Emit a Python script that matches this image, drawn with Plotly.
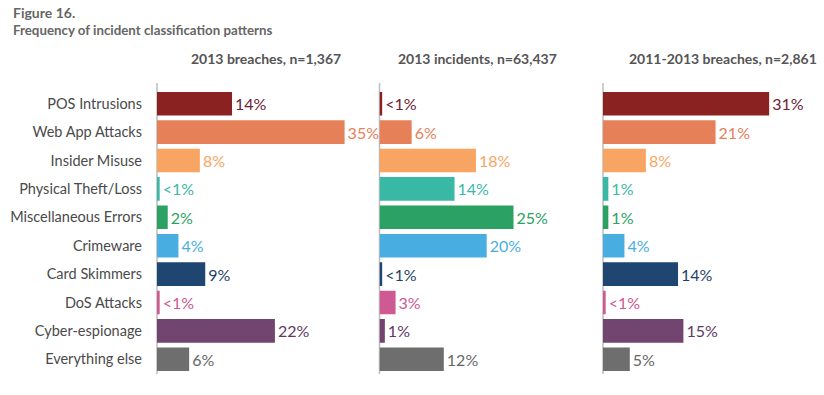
import plotly.graph_objects as go

categories = ["POS Intrusions", "Web App Attacks", "Insider Misuse", "Physical Theft/Loss",
              "Miscellaneous Errors", "Crimeware", "Card Skimmers", "DoS Attacks",
              "Cyber-espionage", "Everything else"]
colors = ["#8A2222", "#E68059", "#F8A564", "#3AB8A6", "#2BA163",
          "#48AEE2", "#1F4571", "#CE5993", "#71456F", "#6E6E6E"]
label_colors = ["#6E2036", "#E68059", "#F8A564", "#3AB8A6", "#2BA163",
                "#48AEE2", "#1F3F6A", "#CE5993", "#5E3A63", "#666666"]

breaches_2013 = [14, 35, 8, 0.5, 2, 4, 9, 0.5, 22, 6]
incidents_2013 = [0.5, 6, 18, 14, 25, 20, 0.5, 3, 1, 12]
breaches_2011_2013 = [31, 21, 8, 1, 1, 4, 14, 0.5, 15, 5]

panel_titles = ["2013 breaches, n=1,367", "2013 incidents, n=63,437", "2011-2013 breaches, n=2,861"]
series = [breaches_2013, incidents_2013, breaches_2011_2013]

W, H = 824, 395
FONT = "Lato"
px_per_pct = 5.36
panel_left = [157, 379.5, 603]
panel_w = 205

def lab(v):
    return "<1%" if v < 1 else f"{v:g}%"

fig = go.Figure()
ytop, ybot = 89.5, 373.5
for i, vals in enumerate(series):
    ax = "" if i == 0 else str(i + 1)
    fig.add_trace(go.Bar(
        x=vals, y=categories, orientation="h",
        marker=dict(color=colors, line=dict(width=0)),
        text=[lab(v) for v in vals], textposition="outside", constraintext="none",
        textfont=dict(family=FONT, size=16, color=label_colors),
        cliponaxis=False, width=0.83,
        xaxis="x" + ax, yaxis="y" + ax, showlegend=False, hoverinfo="skip",
    ))
    x0 = panel_left[i] / W
    x1 = (panel_left[i] + panel_w) / W
    xa = dict(domain=[x0, x1], range=[0, panel_w / px_per_pct], visible=False,
              anchor="y" + ax, fixedrange=True)
    ya = dict(domain=[(H - ybot) / H, (H - ytop) / H], autorange=False, range=[9.5, -0.5],
              type="category", categoryorder="array", categoryarray=categories,
              anchor="x" + ax, showgrid=False, zeroline=False, showline=False,
              showticklabels=(i == 0), ticks="", ticklabelstandoff=14,
              tickfont=dict(family=FONT, size=14.5, color="#4a4a4a"), fixedrange=True)
    fig.update_layout(**{"xaxis" + ax: xa, "yaxis" + ax: ya})
    fig.add_shape(type="line", xref="paper", yref="paper",
                  x0=x0, x1=x0, y0=(H - 374) / H, y1=(H - 83) / H,
                  line=dict(color="#BDBDBD", width=1.5), layer="below")
    fig.add_annotation(text=panel_titles[i], xref="paper", yref="paper",
                       x=[266, 477, 723][i] / W, y=(H - 58) / H, xanchor="center", yanchor="middle",
                       showarrow=False, font=dict(family=FONT, size=14, color="#555555", weight="bold"))

fig.add_annotation(text="Figure 16.", xref="paper", yref="paper", x=11 / W, y=(H - 12) / H,
                   xanchor="left", yanchor="middle", showarrow=False,
                   font=dict(family=FONT, size=14, color="#666666", weight="bold"))
fig.add_annotation(text="Frequency of incident classification patterns", xref="paper", yref="paper",
                   x=11 / W, y=(H - 30) / H, xanchor="left", yanchor="middle", showarrow=False,
                   font=dict(family=FONT, size=13.3, color="#666666", weight="bold"))

fig.update_layout(width=W, height=H, margin=dict(l=0, r=0, t=0, b=0),
                  paper_bgcolor="white", plot_bgcolor="white", bargap=0.17)
fig.write_html("out.html", config={"displayModeBar": False, "staticPlot": True},
               post_script="document.body.style.margin='0';document.body.style.overflow='hidden';")
